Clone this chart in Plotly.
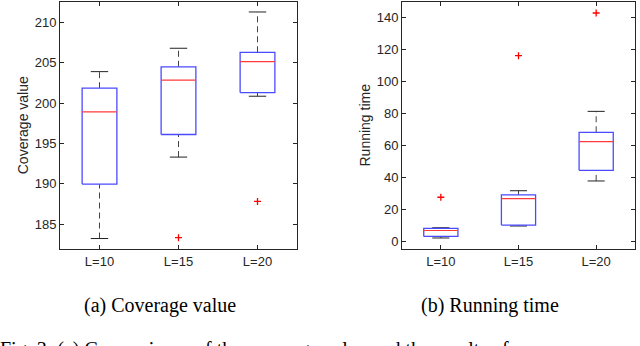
# Box plots of coverage value and running time for three L settings

import plotly.graph_objects as go

# Group labels
labels = ['L=10', 'L=15', 'L=20']

# Coverage value box statistics
cov_lower = [183.2, 193.3, 200.85]
cov_q1 = [189.95, 196.1, 201.3]
cov_median = [198.9, 202.85, 205.15]
cov_q3 = [201.85, 204.5, 206.3]
cov_upper = [203.9, 206.8, 211.3]
cov_outlier_group = ['L=15', 'L=20']
cov_outlier_value = [183.3, 187.8]

# Running time box statistics
time_lower = [1.9, 9.4, 37.6]
time_q1 = [2.9, 10.0, 44.3]
time_median = [6.6, 26.6, 62.3]
time_q3 = [7.9, 28.9, 68.1]
time_upper = [8.3, 31.5, 81.2]
time_outlier_group = ['L=10', 'L=15', 'L=20']
time_outlier_value = [27.4, 116.1, 142.8]

BOX_HALF = 0.22
CAP_HALF = 0.11
AXIS_COLOR = '#262626'


def box_traces(lower, q1, med, q3, upper, out_group, out_value, xref, yref):
    wx, wy, cx, cy, bx, by, mx, my = [], [], [], [], [], [], [], []
    for i in range(len(labels)):
        p = i + 1
        # dashed whiskers
        wx += [p, p, None, p, p, None]
        wy += [q3[i], upper[i], None, lower[i], q1[i], None]
        # caps
        cx += [p - CAP_HALF, p + CAP_HALF, None, p - CAP_HALF, p + CAP_HALF, None]
        cy += [upper[i], upper[i], None, lower[i], lower[i], None]
        # box
        bx += [p - BOX_HALF, p + BOX_HALF, p + BOX_HALF, p - BOX_HALF, p - BOX_HALF, None]
        by += [q1[i], q1[i], q3[i], q3[i], q1[i], None]
        # median
        mx += [p - BOX_HALF, p + BOX_HALF, None]
        my += [med[i], med[i], None]
    ox = [labels.index(g) + 1 for g in out_group]
    common = dict(xaxis=xref, yaxis=yref, showlegend=False, hoverinfo='skip')
    return [
        go.Scatter(x=wx, y=wy, mode='lines',
                   line=dict(color='#444444', width=1, dash='6px,4px'), **common),
        go.Scatter(x=cx, y=cy, mode='lines', line=dict(color='#222222', width=1), **common),
        go.Scatter(x=bx, y=by, mode='lines', line=dict(color='#4a4aff', width=1.3), **common),
        go.Scatter(x=mx, y=my, mode='lines', line=dict(color='#ff3a3a', width=1.2), **common),
        go.Scatter(x=ox, y=out_value, mode='markers',
                   marker=dict(symbol='cross-thin', size=5, color='red',
                               line=dict(color='red', width=1.3)), **common),
    ]


fig = go.Figure()
for t in box_traces(cov_lower, cov_q1, cov_median, cov_q3, cov_upper,
                    cov_outlier_group, cov_outlier_value, 'x', 'y'):
    fig.add_trace(t)
for t in box_traces(time_lower, time_q1, time_median, time_q3, time_upper,
                    time_outlier_group, time_outlier_value, 'x2', 'y2'):
    fig.add_trace(t)

axis_style = dict(showline=True, linecolor=AXIS_COLOR, linewidth=1, mirror='ticks',
                  ticks='inside', ticklen=4, tickcolor=AXIS_COLOR, showgrid=False,
                  zeroline=False, automargin=False,
                  tickfont=dict(family='Liberation Sans', size=13, color=AXIS_COLOR))
title_font = dict(family='Liberation Sans', size=14, color=AXIS_COLOR)
caption_font = dict(family='Liberation Serif', size=20, color='black')

fig.update_layout(
    width=640, height=346,
    margin=dict(l=0, r=0, t=0, b=0, pad=0),
    paper_bgcolor='white', plot_bgcolor='white',
    xaxis=dict(domain=[60 / 640, 297 / 640], range=[0.5, 3.5], tickvals=[1, 2, 3],
               ticktext=labels, anchor='y', **axis_style),
    yaxis=dict(domain=[1 - 249 / 346, 1 - 1.5 / 346], range=[181.9, 212.6], dtick=5,
               anchor='x', title=dict(text='Coverage value', standoff=2, font=title_font),
               **axis_style),
    xaxis2=dict(domain=[402 / 640, 635 / 640], range=[0.5, 3.5], tickvals=[1, 2, 3],
                ticktext=labels, anchor='y2', **axis_style),
    yaxis2=dict(domain=[1 - 249 / 346, 1 - 1.5 / 346], range=[-5, 150], dtick=20,
                anchor='x2', title=dict(text='Running time', standoff=2, font=title_font),
                **axis_style),
    annotations=[
        dict(text='(a) Coverage value', x=160 / 640, y=1 - 305 / 346, xref='paper', yref='paper',
             showarrow=False, xanchor='center', yanchor='middle', font=caption_font),
        dict(text='(b) Running time', x=490 / 640, y=1 - 305 / 346, xref='paper', yref='paper',
             showarrow=False, xanchor='center', yanchor='middle', font=caption_font),
        dict(text='Fig. 3: (a) Comparisons of the coverage value and the results of',
             x=-2 / 640, y=1 - 336 / 346, xref='paper', yref='paper',
             showarrow=False, xanchor='left', yanchor='top', font=caption_font),
    ],
)

# drop the default page margin so the figure sits at the window's corner
fig.write_html('out.html', config={'displayModeBar': False},
               post_script="document.body.style.margin='0';")
